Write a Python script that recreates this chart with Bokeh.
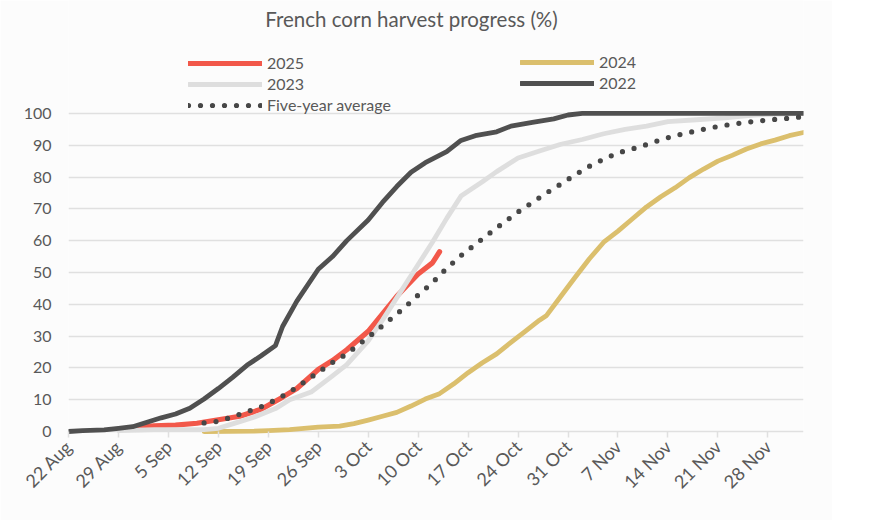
import math
import pandas as pd
from bokeh.plotting import figure
from bokeh.models import Range1d, FixedTicker, Legend, LegendItem, Label
from bokeh.embed import file_html
from bokeh.resources import INLINE

# ---------------- data (dates as MM-DD, values in %) ----------------
title_text = "French corn harvest progress (%)"
origin = "08-22"

tick_dates = ["08-22", "08-29", "09-05", "09-12", "09-19", "09-26", "10-03",
              "10-10", "10-17", "10-24", "10-31", "11-07", "11-14", "11-21", "11-28"]
tick_labels = ["22 Aug", "29 Aug", "5 Sep", "12 Sep", "19 Sep", "26 Sep", "3 Oct",
               "10 Oct", "17 Oct", "24 Oct", "31 Oct", "7 Nov", "14 Nov", "21 Nov", "28 Nov"]
axis_end = "12-03"

dates_2025 = ["08-31", "09-03", "09-06", "09-09", "09-12", "09-15", "09-18", "09-21", "09-23",
              "09-26", "09-28", "09-30", "10-03", "10-05", "10-07", "10-10", "10-12", "10-13"]
vals_2025 = [1.2, 1.8, 2.0, 2.6, 3.7, 4.8, 7.0, 10.8, 13.5,
             19.5, 22.3, 25.7, 31.5, 37.0, 42.5, 49.5, 53.0, 56.5]

dates_2024 = ["09-10", "09-17", "09-19", "09-22", "09-24", "09-26", "09-29", "10-01", "10-03", "10-05",
              "10-07", "10-09", "10-11", "10-13", "10-15", "10-17", "10-19", "10-21", "10-23", "10-25",
              "10-27", "10-28", "10-30", "11-01", "11-03", "11-05", "11-07", "11-09", "11-11", "11-13",
              "11-15", "11-17", "11-19", "11-21", "11-23", "11-25", "11-27", "11-29", "12-01", "12-03"]
vals_2024 = [0, 0.1, 0.3, 0.6, 1.0, 1.4, 1.7, 2.5, 3.6, 4.8,
             6.0, 8.0, 10.2, 11.9, 15.0, 18.5, 21.6, 24.4, 28.0, 31.5,
             35.0, 36.5, 42.5, 48.5, 54.3, 59.5, 63.0, 66.8, 70.6, 73.8,
             76.6, 79.8, 82.5, 85.0, 86.8, 88.8, 90.4, 91.6, 93.0, 94.0]

dates_2023 = ["08-29", "09-03", "09-10", "09-12", "09-14", "09-17", "09-20", "09-22", "09-25", "09-28",
              "09-30", "10-03", "10-05", "10-07", "10-10", "10-12", "10-14", "10-16", "10-19", "10-21",
              "10-24", "10-27", "10-30", "11-02", "11-05", "11-08", "11-11", "11-14", "11-18", "11-22",
              "11-26", "12-03"]
vals_2023 = [0.3, 0.6, 0.6, 1.0, 2.4, 4.5, 7.2, 10.0, 12.4, 17.5,
             21.0, 28.5, 35.0, 42.0, 52.5, 59.5, 67.0, 74.0, 78.5, 81.7,
             86.0, 88.2, 90.3, 91.8, 93.6, 95.0, 96.0, 97.4, 98.0, 98.6,
             99.5, 100.0]

dates_2022 = ["08-22", "08-24", "08-27", "08-29", "08-31", "09-02", "09-04", "09-06", "09-08", "09-10",
              "09-12", "09-14", "09-16", "09-18", "09-20", "09-21", "09-23", "09-26", "09-28", "09-30",
              "10-03", "10-05", "10-07", "10-09", "10-11", "10-14", "10-16", "10-18", "10-21", "10-23",
              "10-26", "10-29", "10-31", "11-02", "12-03"]
vals_2022 = [0, 0.3, 0.5, 1.0, 1.5, 2.9, 4.3, 5.5, 7.3, 10.2,
             13.5, 17.0, 20.8, 23.8, 27.0, 33.0, 41.0, 51.0, 55.0, 60.0,
             66.5, 72.0, 77.0, 81.5, 84.5, 88.0, 91.5, 93.0, 94.2, 96.0,
             97.2, 98.3, 99.5, 100.0, 100.0]

dates_avg = ["09-10", "09-12", "09-14", "09-16", "09-18", "09-20", "09-22", "09-24", "09-26", "09-28",
             "09-30", "10-02", "10-04", "10-06", "10-08", "10-10", "10-12", "10-14", "10-16", "10-18",
             "10-20", "10-22", "10-24", "10-26", "10-28", "10-30", "11-01", "11-03", "11-05", "11-07",
             "11-09", "11-11", "11-13", "11-15", "11-17", "11-19", "11-21", "11-23", "11-25", "11-27",
             "11-29", "12-01", "12-03"]
vals_avg = [2.7, 3.2, 4.6, 6.2, 7.8, 9.9, 12.4, 15.5, 18.6, 21.7,
            24.4, 27.9, 31.4, 35.1, 38.8, 42.9, 46.8, 51.3, 55.3, 58.8,
            62.3, 65.7, 69.0, 72.0, 75.0, 77.8, 80.7, 83.4, 85.6, 87.6,
            88.8, 90.2, 91.7, 93.0, 94.0, 95.0, 95.9, 96.6, 97.2, 97.7,
            98.1, 98.5, 99.0]

y_ticks = [0, 10, 20, 30, 40, 50, 60, 70, 80, 90, 100]


def to_day(md):
    return (pd.Timestamp("2001-" + md) - pd.Timestamp("2001-" + origin)).days


def days(lst):
    return [to_day(d) for d in lst]


# ---------------- figure ----------------
FONT = "Lato"
TXT = "#595959"
GRID = "#e0e0e0"
BG = "#fcfcfc"

W, H = 832, 520
left, right, top, bottom = 68, 29, 0, 84
frame_h = H - top - bottom            # 436
px_per_unit = 3.181
y_lo = -(frame_h - 431) / px_per_unit
y_hi = y_lo + frame_h / px_per_unit

p = figure(width=W, height=H, output_backend="svg", toolbar_location=None,
           x_range=Range1d(0, to_day(axis_end)), y_range=Range1d(y_lo, y_hi),
           min_border_left=left, min_border_right=right,
           min_border_top=top, min_border_bottom=bottom)
p.background_fill_color = BG
p.border_fill_color = BG
p.outline_line_alpha = 0

# grid
p.xgrid.visible = False
p.ygrid.ticker = FixedTicker(ticks=y_ticks)
p.ygrid.grid_line_color = GRID
p.ygrid.grid_line_width = 1.5

# y axis
p.yaxis.ticker = FixedTicker(ticks=y_ticks)
p.yaxis.axis_line_alpha = 0
p.yaxis.major_tick_line_alpha = 0
p.yaxis.minor_tick_line_alpha = 0
p.yaxis.major_tick_out = 0
p.yaxis.major_tick_in = 0
p.yaxis.major_label_standoff = 17
p.yaxis.major_label_text_font = FONT
p.yaxis.major_label_text_font_size = "16px"
p.yaxis.major_label_text_color = TXT

# x axis
tick_days = days(tick_dates)
p.xaxis.ticker = FixedTicker(ticks=tick_days)
p.xaxis.major_label_overrides = {d: l for d, l in zip(tick_days, tick_labels)}
p.xaxis.major_label_orientation = math.pi / 4
p.xaxis.axis_line_alpha = 0
p.xaxis.major_tick_line_color = GRID
p.xaxis.major_tick_line_width = 1.5
p.xaxis.major_tick_in = 5
p.xaxis.major_tick_out = 1
p.xaxis.minor_tick_line_alpha = 0
p.xaxis.major_label_standoff = 6
p.xaxis.major_label_text_font = FONT
p.xaxis.major_label_text_font_size = "18px"
p.xaxis.major_label_text_color = TXT

# series
LW = 4.8
r25 = p.line(days(dates_2025), vals_2025, line_color="#f2584a", line_width=5.2,
             line_join="round", line_cap="round")
r24 = p.line(days(dates_2024), vals_2024, line_color="#dbbf6d", line_width=LW,
             line_join="round", line_cap="round")
r23 = p.line(days(dates_2023), vals_2023, line_color="#dedede", line_width=LW,
             line_join="round", line_cap="round")
r22 = p.line(days(dates_2022), vals_2022, line_color="#505050", line_width=LW,
             line_join="round", line_cap="round")
ravg = p.line(days(dates_avg), vals_avg, line_color="#474747", line_width=5.2,
              line_dash="0 12", line_cap="round", line_join="round")

# legends (two columns)
leg_style = dict(border_line_alpha=0, background_fill_alpha=0, padding=0, margin=0,
                 spacing=2, glyph_width=74, glyph_height=16, label_height=16,
                 label_standoff=5, label_text_font=FONT, label_text_font_size="16px",
                 label_text_color=TXT)
leg1 = Legend(items=[LegendItem(label="2025", renderers=[r25]),
                     LegendItem(label="2023", renderers=[r23]),
                     LegendItem(label="Five-year average", renderers=[ravg])],
              location=(120, 322), **leg_style)
leg2 = Legend(items=[LegendItem(label="2024", renderers=[r24]),
                     LegendItem(label="2022", renderers=[r22])],
              location=(452, 344), **leg_style)
p.add_layout(leg1)
p.add_layout(leg2)

# title
p.add_layout(Label(x=(411 - left) / (735 / to_day(axis_end)), y=(431 - 18.5) / px_per_unit,
                   text=title_text, text_align="center", text_baseline="middle",
                   text_font=FONT, text_font_size="20.5px", text_color=TXT))

open("out.html", "w").write(file_html(p, INLINE))
